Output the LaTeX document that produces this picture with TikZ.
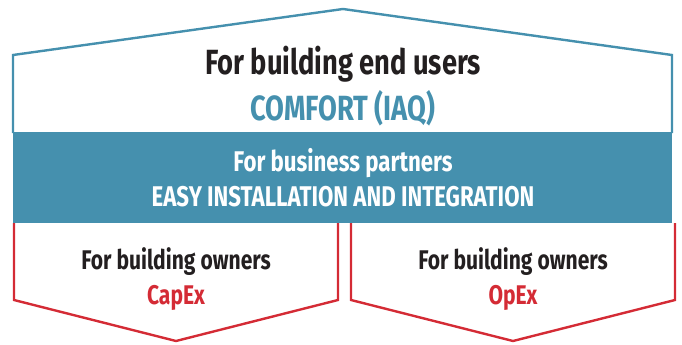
\documentclass[tikz,border=0pt]{standalone}
\usepackage{fontspec}
\setmainfont{Fira Sans}[FakeStretch=0.78]
\usepackage{tikz}
\usetikzlibrary{positioning}
\definecolor{roofteal}{HTML}{4590AE}
\definecolor{floorred}{HTML}{D42B35}
\definecolor{inkblack}{HTML}{231F20}

\begin{document}
\begin{tikzpicture}[x=1pt, y=-1pt,
    outline/.style={line width=2.4pt, line join=miter},
    head/.style={font=\bfseries\fontsize{35}{38}\selectfont, text=inkblack, inner sep=0pt},
    headkey/.style={font=\bfseries\fontsize{35}{38}\selectfont, text=roofteal, inner sep=0pt},
    band/.style={font=\bfseries\fontsize{28.5}{32}\selectfont, text=white, inner sep=0pt},
    sub/.style={font=\bfseries\fontsize{27}{30}\selectfont, text=inkblack, inner sep=0pt},
    subkey/.style={font=\bfseries\fontsize{27}{30}\selectfont, text=floorred, inner sep=0pt},
  ]
    \useasboundingbox (0,0) rectangle (682,345);
    % roof
    \draw[outline, roofteal] (13,133) -- (13,55) -- (343,9) -- (672,55) -- (672,133);
    % band
    \fill[roofteal] (13,132) rectangle (672,223);
    % two bottom boxes
    \draw[outline, floorred] (14,223) -- (14,300) -- (176,341) -- (338,300) -- (338,223);
    \draw[outline, floorred] (351,223) -- (351,300) -- (513,341) -- (675,300) -- (675,223);
    % texts
    \node[head] (users) at (343,64) {For building end users};
    \node[headkey] (comfort) at (343,108) {COMFORT (IAQ)};
    \node[band] (partners) at (343,163) {For business partners};
    \node[band] (install) at (343,197) {EASY INSTALLATION AND INTEGRATION};
    \node[sub] (ownersL) at (176,262) {For building owners};
    \node[subkey] (capex) at (176,298) {CapEx};
    \node[sub] (ownersR) at (513,262) {For building owners};
    \node[subkey] (opex) at (513,298) {OpEx};
\end{tikzpicture}
\end{document}
